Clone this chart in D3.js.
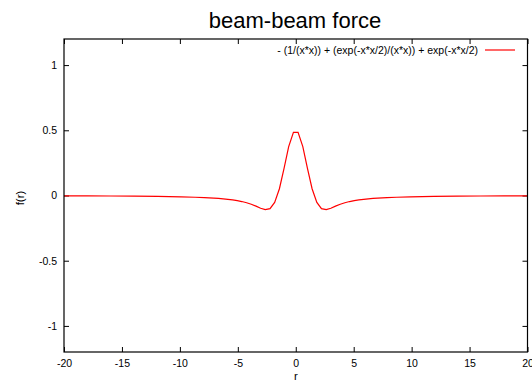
<!DOCTYPE html>
<html>
<head>
<meta charset="utf-8">
<script src="https://cdn.jsdelivr.net/npm/d3@7"></script>
<style>
  body { margin: 0; background: #fff; }
  text { font-family: "Liberation Sans", Arial, sans-serif; fill: #000; }
</style>
</head>
<body>
<svg id="chart" width="532" height="382"></svg>
<script>
const rVals = [-20, -17.98, -15.96, -13.94, -11.92, -9.9, -8.69, -7.88, -7.07, -6.67, -6.26, -5.86, -5.45, -5.05,
  -4.65, -4.24, -3.84, -3.43, -3.03, -2.63, -2.22, -1.82, -1.41, -1.01, -0.61, -0.2,
  0.2, 0.61, 1.01, 1.41, 1.82, 2.22, 2.63, 3.03, 3.43, 3.84, 4.24, 4.65,
  5.05, 5.45, 5.86, 6.26, 6.67, 7.07, 7.88, 8.69, 9.9, 11.92, 13.94, 15.96, 17.98, 20];
const fVals = [-0.0025, -0.0031, -0.0039, -0.0051, -0.007, -0.0102, -0.0133, -0.0161, -0.02, -0.0225, -0.0255, -0.0291, -0.0336, -0.0392,
  -0.0463, -0.0554, -0.0672, -0.0818, -0.0977, -0.1086, -0.1007, -0.0531, 0.0518, 0.2087, 0.3754, 0.4847,
  0.4847, 0.3754, 0.2087, 0.0518, -0.0531, -0.1007, -0.1086, -0.0977, -0.0818, -0.0672, -0.0554, -0.0463,
  -0.0392, -0.0336, -0.0291, -0.0255, -0.0225, -0.02, -0.0161, -0.0133, -0.0102, -0.007, -0.0051, -0.0039, -0.0031, -0.0025];

const xTicks = [-20, -15, -10, -5, 0, 5, 10, 15, 20];
const yTicks = [-1, -0.5, 0, 0.5, 1];
const titleText = "beam-beam force";
const legendText = "- (1/(x*x)) + (exp(-x*x/2)/(x*x)) + exp(-x*x/2)";

const margin = { top: 39, right: 4.5, bottom: 30, left: 64 };
const width = 532 - margin.left - margin.right;
const height = 382 - margin.top - margin.bottom;

const svg = d3.select("#chart");
const g = svg.append("g").attr("transform", `translate(${margin.left},${margin.top})`);

const x = d3.scaleLinear().domain([-20, 20]).range([0, width]);
const y = d3.scaleLinear().domain([-1.2, 1.2]).range([height, 0]);

const tick = 5;
const small = "10.5px";

// bottom + top axes, ticks pointing inward
g.append("g")
  .attr("transform", `translate(0,${height})`)
  .call(d3.axisBottom(x).tickValues(xTicks).tickSize(-tick).tickPadding(8).tickFormat(d => String(d)))
  .call(a => a.select(".domain").remove());
g.append("g")
  .call(d3.axisTop(x).tickValues(xTicks).tickSize(-tick).tickFormat(""))
  .call(a => a.select(".domain").remove());

// left + right axes
g.append("g")
  .call(d3.axisLeft(y).tickValues(yTicks).tickSize(-tick).tickPadding(7).tickFormat(d => String(d)))
  .call(a => a.select(".domain").remove());
g.append("g")
  .attr("transform", `translate(${width},0)`)
  .call(d3.axisRight(y).tickValues(yTicks).tickSize(-tick).tickFormat(""))
  .call(a => a.select(".domain").remove());

g.selectAll(".tick text").style("font-size", small).style("font-family", "Liberation Sans, Arial, sans-serif").attr("fill", "#000");
g.selectAll(".tick line").attr("stroke", "#000");

// the curve
const line = d3.line().x((d, i) => x(rVals[i])).y(d => y(d));
g.append("path")
  .datum(fVals)
  .attr("d", line)
  .attr("fill", "none")
  .attr("stroke", "#ff0000")
  .attr("stroke-width", 1.2);

// frame
g.append("rect")
  .attr("width", width).attr("height", height)
  .attr("fill", "none").attr("stroke", "#000").attr("stroke-width", 1.2);

// legend
g.append("text")
  .attr("x", 478 - margin.left).attr("y", 14.5)
  .attr("text-anchor", "end")
  .style("font-size", small)
  .text(legendText);
g.append("line")
  .attr("x1", 485 - margin.left).attr("x2", 515 - margin.left)
  .attr("y1", 11).attr("y2", 11)
  .attr("stroke", "#ff0000").attr("stroke-width", 1.2);

// title + axis labels
svg.append("text")
  .attr("x", 295).attr("y", 28)
  .attr("text-anchor", "middle")
  .style("font-size", "22px")
  .text(titleText);
svg.append("text")
  .attr("x", 296).attr("y", 379.5)
  .attr("text-anchor", "middle")
  .style("font-size", "11.5px")
  .text("r");
svg.append("text")
  .attr("transform", "translate(24,198) rotate(-90)")
  .attr("text-anchor", "middle")
  .style("font-size", "11.5px")
  .text("f(r)");
</script>
</body>
</html>
